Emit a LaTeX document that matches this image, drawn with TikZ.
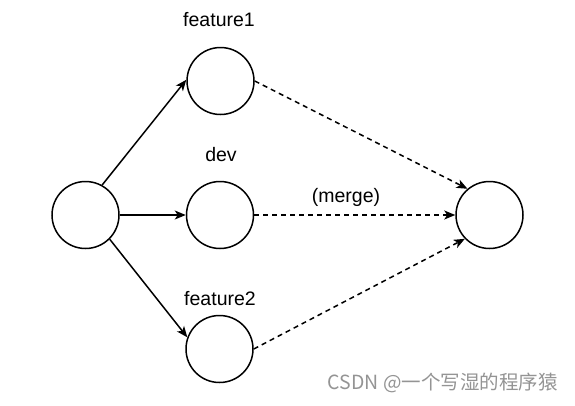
\documentclass[tikz,border=0pt]{standalone}
\usepackage{fontspec}
\setmainfont{Liberation Sans}
\newfontfamily\cjkfont{Noto Sans CJK SC}
\usetikzlibrary{arrows.meta}
\begin{document}
\begin{tikzpicture}[x=1pt,y=-1pt,
  state/.style={circle,draw,line width=1.5pt,minimum size=67pt,inner sep=0pt},
  lbl/.style={font=\fontsize{19.5}{22}\selectfont,inner sep=0pt},
  solidarrow/.style={line width=1.5pt,-{Stealth[length=11pt,width=9pt,inset=3pt]}},
  dasharrow/.style={line width=1.5pt,dash pattern=on 5pt off 4pt,-{Stealth[length=11pt,width=9pt,inset=3pt]}}]
\useasboundingbox (0,0) rectangle (575,405);
\node[state] (L) at (85.5,215) {};
\node[state] (F1) at (220.5,81) {};
\node[state] (D) at (220,215) {};
\node[state] (F2) at (219.5,349) {};
\node[state] (R) at (489.5,215) {};
\node[lbl] (tf1) at (219,20) {feature1};
\node[lbl] (tdev) at (221,155) {dev};
\node[lbl] (tf2) at (220,299) {feature2};
\node[lbl] (tmerge) at (346,197) {(merge)};
\node[font=\cjkfont\fontsize{19.5}{22}\selectfont,text=black!42,inner sep=0pt,anchor=east] (wm) at (558,383) {CSDN @一个写湿的程序猿};
\draw[solidarrow] (L.61) -- (F1.178);
\draw[solidarrow] (L.east) -- (D.west);
\draw[solidarrow] (L.-45) -- (F2.160);
\draw[dasharrow] (F1.east) -- (R.130);
\draw[dasharrow] (D.east) -- (R.west);
\draw[dasharrow] (F2.east) -- (R.224);
\end{tikzpicture}
\end{document}
